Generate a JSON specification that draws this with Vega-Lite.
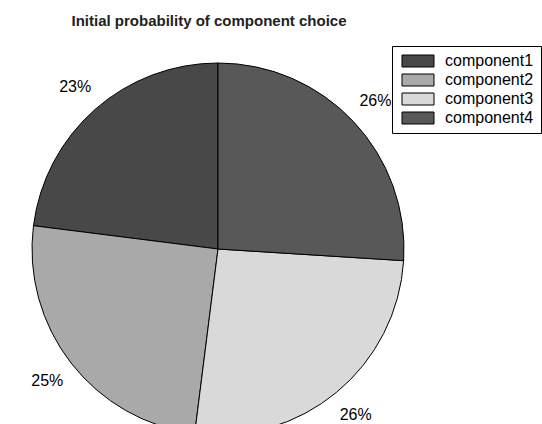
{
  "$schema": "https://vega.github.io/schema/vega-lite/v6.json",
  "autosize": {"type": "none"},
  "padding": {"left": 0, "top": 74, "right": 106, "bottom": 0},
  "width": 436,
  "height": 350,
  "background": "white",
  "title": {
    "text": "Initial probability of component choice",
    "font": "Liberation Sans",
    "fontSize": 15,
    "fontWeight": "bold",
    "color": "#222222",
    "anchor": "middle",
    "offset": 17,
    "dx": -9
  },
  "data": {
    "values": [
      {"component": "component1", "share": 0.23},
      {"component": "component2", "share": 0.25},
      {"component": "component3", "share": 0.26},
      {"component": "component4", "share": 0.26}
    ]
  },
  "encoding": {
    "theta": {"field": "share", "type": "quantitative", "stack": true},
    "order": {"field": "component", "sort": "descending"}
  },
  "layer": [
    {
      "mark": {"type": "arc", "radius": 186, "stroke": "black", "strokeWidth": 1},
      "encoding": {
        "color": {
          "field": "component",
          "type": "nominal",
          "scale": {
            "domain": ["component1", "component2", "component3", "component4"],
            "range": ["#484848", "#a9a9a9", "#d9d9d9", "#585858"]
          },
          "legend": {
            "title": null,
            "orient": "none",
            "legendX": 392,
            "legendY": -28,
            "direction": "vertical",
            "fillColor": "white",
            "strokeColor": "black",
            "padding": 7,
            "zindex": 1,
            "symbolType": "M-2.667,-1H2.667V1H-2.667Z",
            "symbolSize": 144,
            "symbolStrokeColor": "black",
            "symbolStrokeWidth": 1,
            "symbolOffset": 11,
            "labelOffset": 19,
            "labelFont": "Liberation Sans",
            "labelFontSize": 16,
            "labelColor": "black",
            "rowPadding": 3
          }
        }
      }
    },
    {
      "mark": {
        "type": "text",
        "radius": 216,
        "font": "Liberation Sans",
        "fontSize": 16,
        "color": "black"
      },
      "encoding": {
        "text": {"field": "share", "type": "quantitative", "format": ".0%"}
      }
    }
  ],
  "view": {"stroke": null}
}
